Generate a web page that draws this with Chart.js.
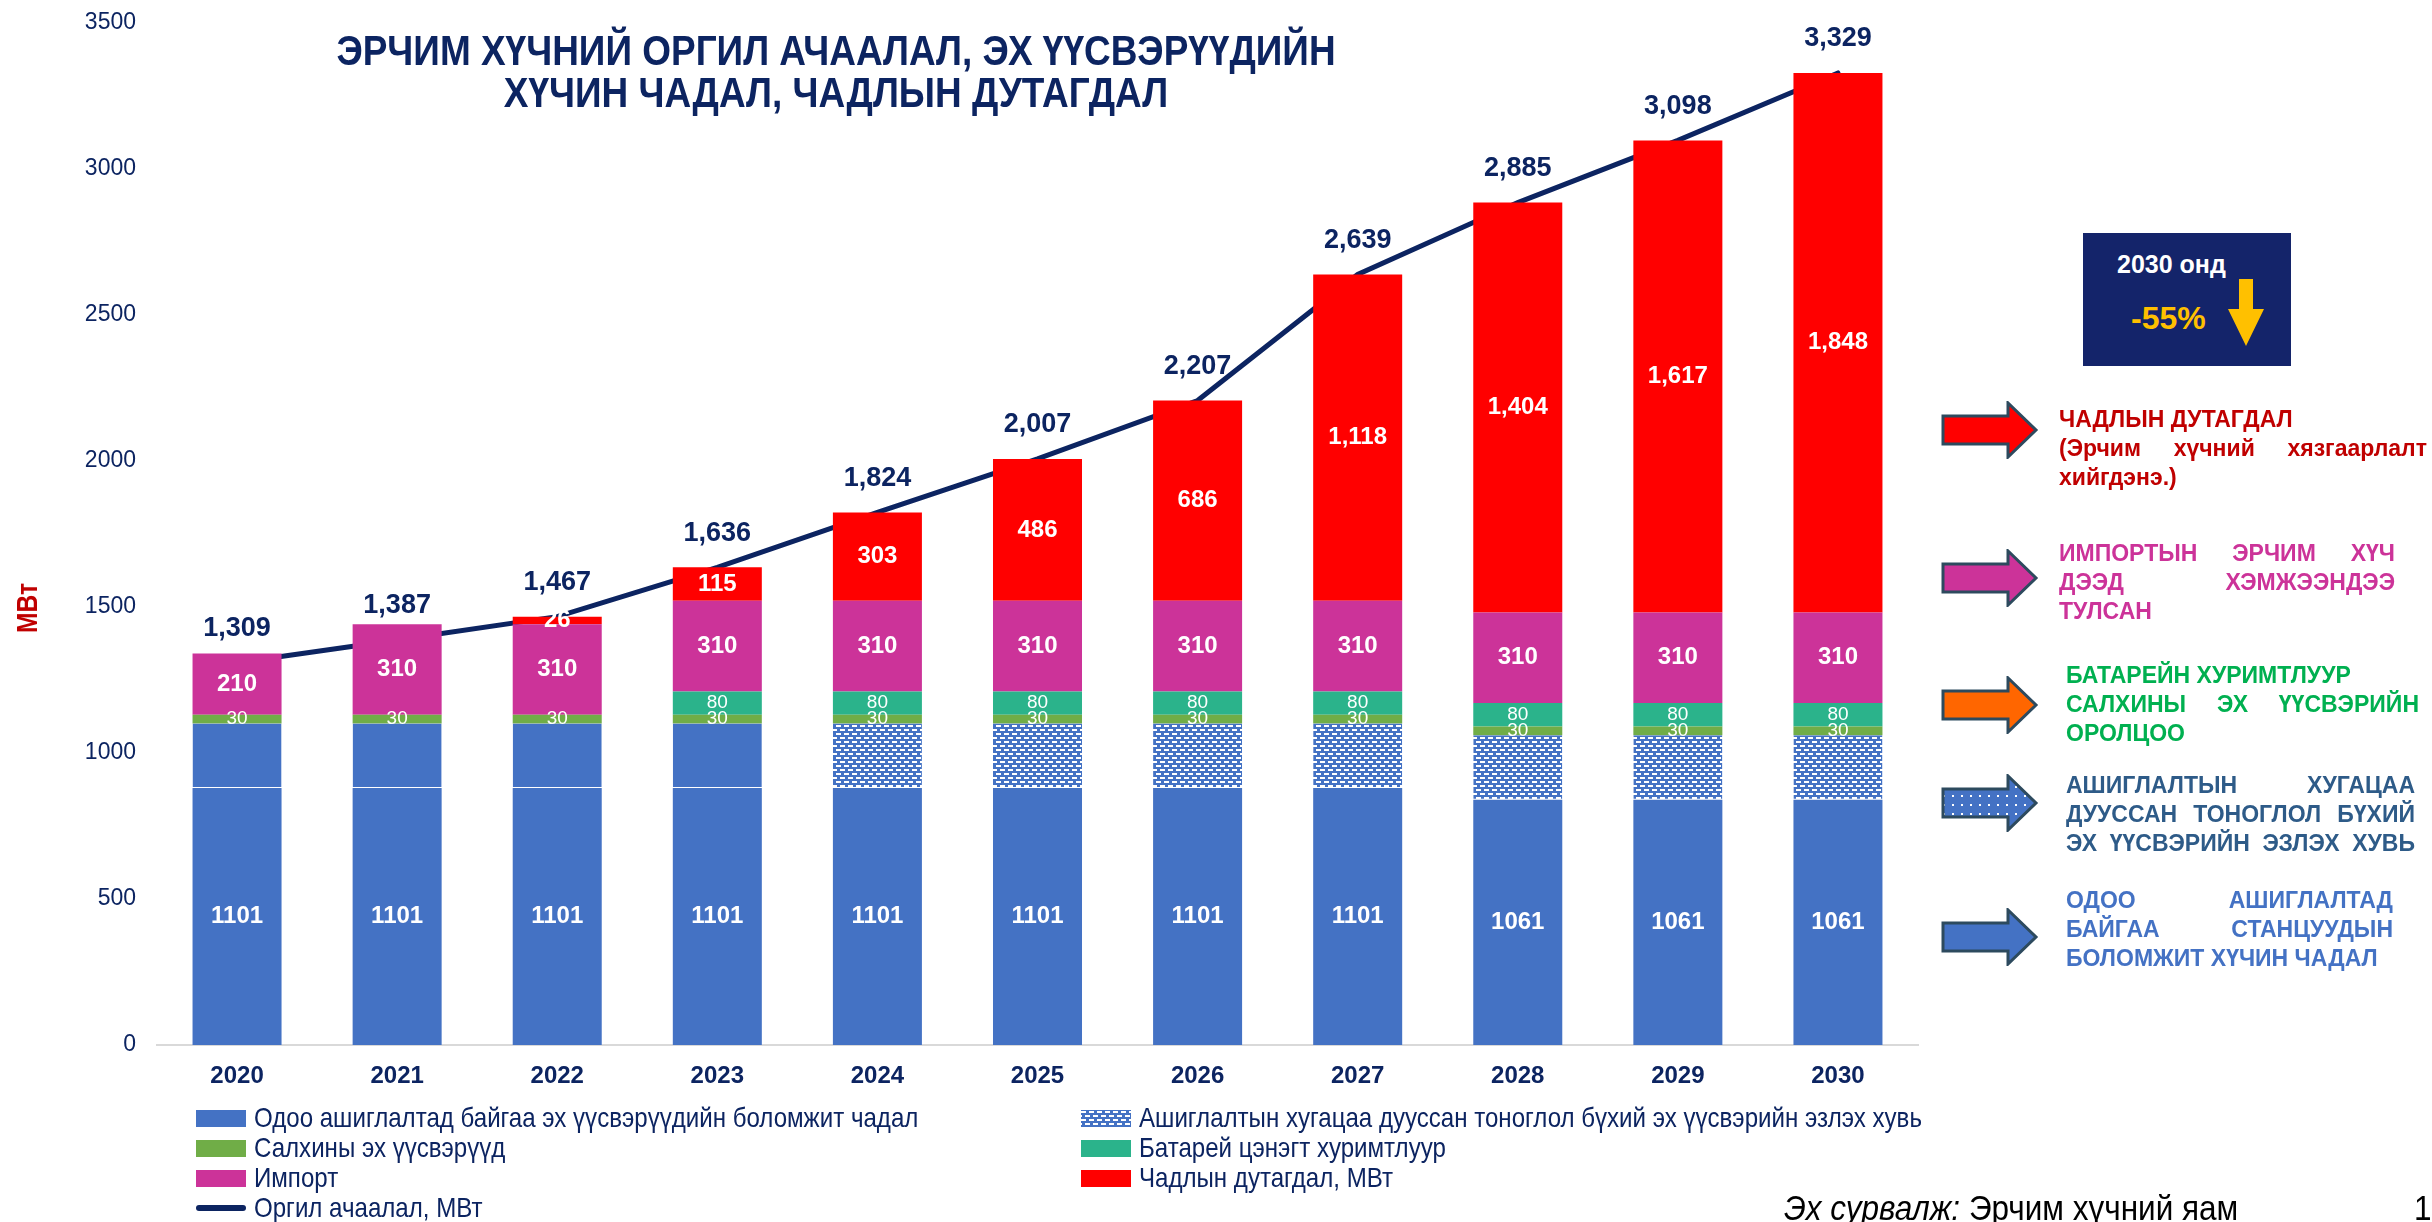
<!DOCTYPE html>
<html lang="mn">
<head>
<meta charset="UTF-8">
<title>Эрчим хүчний оргил ачаалал, эх үүсвэрүүдийн хүчин чадал</title>
<script src="https://cdn.jsdelivr.net/npm/chart.js"></script>
<style>
  body { margin: 0; background: #fff; font-family: "Liberation Sans", Arial, sans-serif; }
  #wrap { position: relative; width: 2432px; height: 1222px; overflow: hidden; }
  #chart { position: absolute; left: 0; top: 0; }
  /* Arial Narrow маягийн нарийн бичиг */
  .nar { display: inline-block; transform: scaleX(0.86); transform-origin: 0 50%; white-space: nowrap; }
  #title { position: absolute; left: 836px; top: 30px; text-align: center; color: #0c2461; white-space: nowrap;
           font-weight: bold; font-size: 42px; line-height: 42px; transform: translateX(-50%) scaleX(0.88); }
  #ytitle { position: absolute; left: 27px; top: 608px; color: #c00000; font-weight: bold; font-size: 30px;
            transform: translate(-50%, -50%) rotate(-90deg) scaleX(0.82); white-space: nowrap; }
  #legend { position: absolute; left: 196px; top: 1103px; display: grid; grid-template-columns: 885px 800px;
            grid-auto-rows: 30px; color: #0c2461; font-size: 28px; }
  .item { display: flex; align-items: center; white-space: nowrap; }
  .sw { width: 50px; height: 17px; margin-right: 8px; flex: none; }
  .swline { width: 50px; height: 6px; border-radius: 3px; margin-right: 8px; flex: none; }
  #box { position: absolute; left: 2083px; top: 233px; width: 208px; height: 133px; background: #14246a; }
  #box .y { position: absolute; left: 34px; top: 17px; color: #fff; font-weight: bold; font-size: 25px; }
  #box .p { position: absolute; left: 48px; top: 67px; color: #ffc000; font-weight: bold; font-size: 32px; }
  #box svg { position: absolute; left: 143px; top: 44px; }
  .arrow { position: absolute; left: 1940px; }
  .note { position: absolute; font-weight: bold; font-size: 23px; line-height: 29px; white-space: nowrap; }
  .note .j { text-align: justify; text-align-last: justify; }
  #source { position: absolute; left: 1784px; top: 1188px; font-size: 35px; color: #000; }
  #source .nar, #page .nar { transform: scaleX(0.9); }
  #page { position: absolute; left: 2414px; top: 1188px; font-size: 35px; color: #000; }
</style>
</head>
<body>
<div id="wrap">
  <canvas id="chart" width="2432" height="1222"></canvas>

  <div id="title">ЭРЧИМ ХҮЧНИЙ ОРГИЛ АЧААЛАЛ, ЭХ ҮҮСВЭРҮҮДИЙН<br>ХҮЧИН ЧАДАЛ, ЧАДЛЫН ДУТАГДАЛ</div>
  <div id="ytitle">МВт</div>
  <div id="legend"></div>

  <div id="box">
    <div class="y">2030 онд</div>
    <div class="p">-55%</div>
    <svg width="40" height="70" viewBox="0 0 40 70">
      <polygon points="13,2 27,2 27,32 38,32 20,69 2,32 13,32" fill="#ffc000"/>
    </svg>
  </div>

  <svg class="arrow" style="top:401px" width="100" height="58"><polygon points="3,15 68,15 68,2 96,29 68,56 68,43 3,43" fill="#ff0000" stroke="#2d4a5e" stroke-width="3"/></svg>
  <svg class="arrow" style="top:549px" width="100" height="58"><polygon points="3,15 68,15 68,2 96,29 68,56 68,43 3,43" fill="#cc3399" stroke="#2d4a5e" stroke-width="3"/></svg>
  <svg class="arrow" style="top:676px" width="100" height="58"><polygon points="3,15 68,15 68,2 96,29 68,56 68,43 3,43" fill="#ff6600" stroke="#2d4a5e" stroke-width="3"/></svg>
  <svg class="arrow" style="top:774px" width="100" height="58">
    <defs><pattern id="dots" width="9" height="9" patternUnits="userSpaceOnUse">
      <rect width="9" height="9" fill="#4472c4"/><rect x="3" y="3" width="2" height="2" fill="#fff"/>
    </pattern></defs>
    <polygon points="3,15 68,15 68,2 96,29 68,56 68,43 3,43" fill="url(#dots)" stroke="#2d4a5e" stroke-width="3"/></svg>
  <svg class="arrow" style="top:908px" width="100" height="58"><polygon points="3,15 68,15 68,2 96,29 68,56 68,43 3,43" fill="#4472c4" stroke="#2d4a5e" stroke-width="3"/></svg>

  <div class="note" style="left:2059px; top:405px; width:368px; color:#c00000;">
    <div>ЧАДЛЫН ДУТАГДАЛ</div>
    <div class="j">(Эрчим хүчний хязгаарлалт</div>
    <div>хийгдэнэ.)</div>
  </div>
  <div class="note" style="left:2059px; top:539px; width:336px; color:#cc3399;">
    <div class="j">ИМПОРТЫН ЭРЧИМ ХҮЧ</div>
    <div class="j">ДЭЭД ХЭМЖЭЭНДЭЭ</div>
    <div>ТУЛСАН</div>
  </div>
  <div class="note" style="left:2066px; top:661px; width:353px; color:#00b050;">
    <div>БАТАРЕЙН ХУРИМТЛУУР</div>
    <div class="j">САЛХИНЫ ЭХ ҮҮСВЭРИЙН</div>
    <div>ОРОЛЦОО</div>
  </div>
  <div class="note" style="left:2066px; top:771px; width:349px; color:#2e5b88;">
    <div class="j">АШИГЛАЛТЫН ХУГАЦАА</div>
    <div class="j">ДУУССАН ТОНОГЛОЛ БҮХИЙ</div>
    <div class="j">ЭХ ҮҮСВЭРИЙН ЭЗЛЭХ ХУВЬ</div>
  </div>
  <div class="note" style="left:2066px; top:886px; width:327px; color:#4472c4;">
    <div class="j">ОДОО АШИГЛАЛТАД</div>
    <div class="j">БАЙГАА СТАНЦУУДЫН</div>
    <div>БОЛОМЖИТ ХҮЧИН ЧАДАЛ</div>
  </div>

  <div id="source"><span class="nar"><i>Эх сурвалж:</i> Эрчим хүчний яам</span></div>
  <div id="page"><span class="nar">1</span></div>
</div>

<script>
  // Он
  const years = ['2020', '2021', '2022', '2023', '2024', '2025', '2026', '2027', '2028', '2029', '2030'];
  // Хүчин чадал, МВт
  const existingCapacity = [880, 880, 880, 880, 880, 880, 880, 880, 840, 840, 840];
  const retiringCapacity = [221, 221, 221, 221, 221, 221, 221, 221, 221, 221, 221];
  const windCapacity     = [30, 30, 30, 30, 30, 30, 30, 30, 30, 30, 30];
  const batteryStorage   = [null, null, null, 80, 80, 80, 80, 80, 80, 80, 80];
  const importCapacity   = [210, 310, 310, 310, 310, 310, 310, 310, 310, 310, 310];
  const capacityDeficit  = [null, null, 26, 115, 303, 486, 686, 1118, 1404, 1617, 1848];
  const peakLoad         = [1309, 1387, 1467, 1636, 1824, 2007, 2207, 2639, 2885, 3098, 3329];
  // Тэнхлэг
  const yMin = 0, yMax = 3500, yStep = 500;
  const firstHatchedYear = '2024';

  const NAVY = '#0c2461';
  const BLUE = '#4472c4';

  // хээтэй дүүргэлт (ашиглалтын хугацаа дууссан)
  function makeHatchTile() {
    const c = document.createElement('canvas');
    c.width = 8; c.height = 8;
    const g = c.getContext('2d');
    g.fillStyle = BLUE; g.fillRect(0, 0, 8, 8);
    g.fillStyle = '#ffffff';
    g.fillRect(0, 1, 5, 2);
    g.fillRect(4, 5, 4, 2);
    g.fillRect(0, 5, 1, 2);
    return c;
  }
  const hatchTile = makeHatchTile();
  const ctx = document.getElementById('chart').getContext('2d');
  const hatch = ctx.createPattern(hatchTile, 'repeat');
  const hatchStart = years.indexOf(firstHatchedYear);

  const boldFont = 'bold 24px "Liberation Sans", Arial, sans-serif';
  const smallFont = '19px "Liberation Sans", Arial, sans-serif';

  // баганан дээрх тоонууд
  const segLabels = {
    id: 'segLabels',
    afterDatasetsDraw(chart) {
      const c = chart.ctx;
      c.save();
      c.textAlign = 'center';
      c.textBaseline = 'middle';
      chart.data.datasets.forEach((ds, di) => {
        if (!ds.segLabel) return;
        const meta = chart.getDatasetMeta(di);
        meta.data.forEach((el, i) => {
          const txt = ds.segLabel.text(i);
          if (txt == null) return;
          c.font = ds.segLabel.font;
          c.fillStyle = ds.segLabel.color;
          const y = ds.type === 'line' ? el.y - 34 : (el.y + el.base) / 2;
          c.fillText(txt, el.x, y);
        });
      });
      c.restore();
    }
  };

  const chart = new Chart(ctx, {
    type: 'bar',
    data: {
      labels: years,
      datasets: [
        {
          label: 'Одоо ашиглалтад байгаа эх үүсвэрүүдийн боломжит чадал',
          data: existingCapacity,
          backgroundColor: BLUE,
          segLabel: { font: boldFont, color: '#fff', text: i => existingCapacity[i] + retiringCapacity[i] }
        },
        {
          label: 'Ашиглалтын хугацаа дууссан тоноглол бүхий эх үүсвэрийн эзлэх хувь',
          data: retiringCapacity,
          backgroundColor: years.map((y, i) => i >= hatchStart ? hatch : BLUE),
          borderColor: 'rgba(255,255,255,0.12)',
          borderWidth: { bottom: 1 },
          borderSkipped: false,
          legendSwatch: 'hatch'
        },
        {
          label: 'Салхины эх үүсвэрүүд',
          data: windCapacity,
          backgroundColor: '#70ad47',
          segLabel: { font: smallFont, color: '#fff', text: i => windCapacity[i] }
        },
        {
          label: 'Батарей цэнэгт хуримтлуур',
          data: batteryStorage,
          backgroundColor: '#2bb38b',
          segLabel: { font: smallFont, color: '#fff', text: i => batteryStorage[i] }
        },
        {
          label: 'Импорт',
          data: importCapacity,
          backgroundColor: '#cc3399',
          segLabel: { font: boldFont, color: '#fff', text: i => importCapacity[i] }
        },
        {
          label: 'Чадлын дутагдал, МВт',
          data: capacityDeficit,
          backgroundColor: '#ff0000',
          segLabel: { font: boldFont, color: '#fff', text: i => capacityDeficit[i] == null ? null : capacityDeficit[i].toLocaleString('en-US') }
        },
        {
          type: 'line',
          label: 'Оргил ачаалал, МВт',
          data: peakLoad,
          stack: 'peak',
          order: 0,
          borderColor: NAVY,
          backgroundColor: NAVY,
          borderWidth: 5,
          borderCapStyle: 'round',
          pointRadius: 0,
          tension: 0,
          segLabel: { font: 'bold 27px "Liberation Sans", Arial, sans-serif', color: NAVY, text: i => peakLoad[i].toLocaleString('en-US') }
        }
      ]
    },
    options: {
      responsive: false,
      animation: false,
      datasets: { bar: { order: 1, barPercentage: 0.556, categoryPercentage: 1 } },
      layout: { padding: { left: 0, right: 514, top: 23, bottom: 0 } },
      plugins: { legend: { display: false }, tooltip: { enabled: false } },
      scales: {
        x: {
          stacked: true,
          grid: { display: false },
          border: { color: '#d9d9d9', width: 2 },
          ticks: { color: NAVY, font: { size: 24, weight: 'bold', family: '"Liberation Sans", Arial' }, padding: 9 },
          afterFit: s => { s.height = 177; }
        },
        y: {
          stacked: true,
          min: yMin, max: yMax,
          grid: { display: false },
          border: { display: false },
          ticks: { stepSize: yStep, color: NAVY, padding: 13,
                   font: { size: 23, family: '"Liberation Sans", Arial' }, callback: v => String(v) },
          afterFit: s => { s.width = 157; s.paddingTop = 0; s.paddingBottom = 0; }
        }
      }
    },
    plugins: [segLabels]
  });

  // тайлбар (2 багана)
  const legend = document.getElementById('legend');
  chart.data.datasets.forEach(ds => {
    const item = document.createElement('div');
    item.className = 'item';
    const sw = document.createElement('div');
    if (ds.type === 'line') {
      sw.className = 'swline';
      sw.style.background = ds.borderColor;
    } else {
      sw.className = 'sw';
      if (ds.legendSwatch === 'hatch') sw.style.backgroundImage = 'url(' + hatchTile.toDataURL() + ')';
      else sw.style.background = ds.backgroundColor;
    }
    const tx = document.createElement('span');
    tx.className = 'nar';
    tx.textContent = ds.label;
    item.appendChild(sw);
    item.appendChild(tx);
    legend.appendChild(item);
  });
</script>
</body>
</html>
